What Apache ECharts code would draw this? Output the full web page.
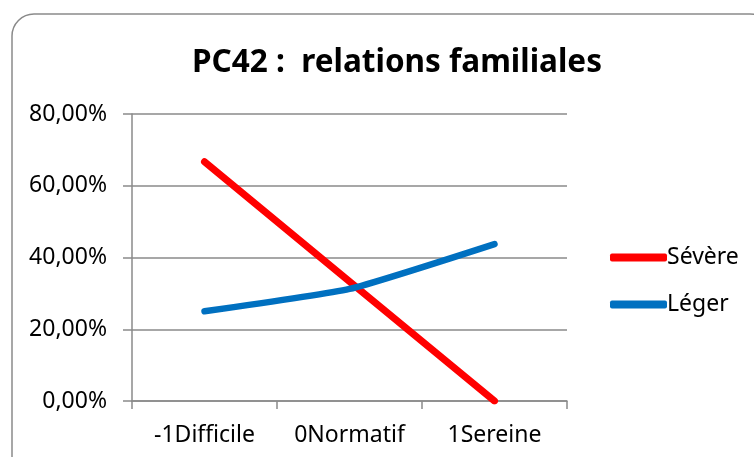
<!DOCTYPE html>
<html>
<head>
<meta charset="utf-8">
<script src="https://cdn.jsdelivr.net/npm/echarts@6/dist/echarts.min.js"></script>
<style>
html, body { margin: 0; padding: 0; background: #fff; }
#chart { width: 754px; height: 457px; }
</style>
</head>
<body>
<div id="chart"></div>
<script>
const categories = ['-1Difficile', '0Normatif', '1Sereine']
const severe = [66.67, 33.33, 0]
const leger = [25, 31.25, 43.75]
const yTicks = { min: 0, max: 80, interval: 20 }

const font = 'Noto Sans, sans-serif'
const chart = echarts.init(document.getElementById('chart'))

chart.setOption({
    animation: false,
    textStyle: { fontFamily: font },
    graphic: [{
        type: 'rect',
        shape: { x: 12, y: 14, width: 760, height: 470, r: 22 },
        style: { fill: 'none', stroke: '#8a8a8a', lineWidth: 1.5 },
        silent: true
    }],
    title: {
        text: 'PC42 :  relations familiales',
        left: 392,
        textAlign: 'center',
        top: 42,
        textStyle: { fontSize: 31.5, fontWeight: 'bold', color: '#000', fontFamily: font }
    },
    legend: {
        orient: 'vertical',
        left: 605,
        top: 241,
        itemWidth: 57,
        itemHeight: 8,
        itemGap: 24,
        icon: 'roundRect',
        textStyle: { fontSize: 23, color: '#000', lineHeight: 23, padding: [0, 0, 0, -5] },
        data: ['Sévère', 'Léger']
    },
    grid: { left: 132, right: 187, top: 114, bottom: 56 },
    xAxis: {
        type: 'category',
        data: categories,
        boundaryGap: true,
        axisLine: { lineStyle: { color: '#8a8a8a', width: 1.5 } },
        axisTick: { show: true, interval: 0, length: 8, lineStyle: { color: '#8a8a8a', width: 1.5 } },
        axisLabel: { interval: 0, hideOverlap: false, fontSize: 23, color: '#000', margin: 23 }
    },
    yAxis: {
        type: 'value',
        min: yTicks.min,
        max: yTicks.max,
        interval: yTicks.interval,
        axisLine: { show: true, lineStyle: { color: '#8a8a8a', width: 1.5 } },
        axisTick: { show: true, length: 9, lineStyle: { color: '#8a8a8a', width: 1.5 } },
        splitLine: { lineStyle: { color: '#8a8a8a', width: 1.5 } },
        axisLabel: {
            fontSize: 23, color: '#000', margin: 25,
            formatter: v => v.toFixed(2).replace('.', ',') + '%'
        }
    },
    series: [
        {
            name: 'Sévère',
            type: 'line',
            data: severe,
            showSymbol: false,
            color: '#ff0000',
            lineStyle: { width: 7, cap: 'round' }
        },
        {
            name: 'Léger',
            type: 'line',
            data: leger,
            showSymbol: false,
            smooth: 0.15,
            color: '#0070c0',
            lineStyle: { width: 6.5, cap: 'round' }
        }
    ]
})
</script>
</body>
</html>
